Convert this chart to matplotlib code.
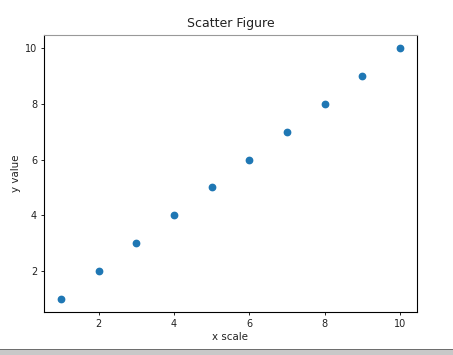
import matplotlib
matplotlib.use("Agg")
import matplotlib.pyplot as plt
from matplotlib.patches import Rectangle

x_values = [1, 2, 3, 4, 5, 6, 7, 8, 9, 10]
y_values = [1, 2, 3, 4, 5, 6, 7, 8, 9, 10]

fig = plt.figure(figsize=(4.53, 3.55), dpi=100)
ax = fig.add_axes([44/453, 1-312/355, (417-44)/453, (312-35)/355])
ax.scatter(x_values, y_values, s=21, color='#1f77b4')
ax.set_title("Scatter Figure", fontsize=9, pad=5.5, color='#222222')
ax.set_xlabel("x scale", fontsize=7.4, labelpad=2, color='#222222')
ax.set_ylabel("y value", fontsize=7.4, labelpad=3, color='#222222')
ax.tick_params(labelsize=7, length=2.5, width=0.6, pad=2.5, labelcolor='#222222')
for sp in ax.spines.values():
    sp.set_linewidth(0.8)
ax.spines['top'].set_color('#999999')

fig.patches.append(Rectangle((0, 0), 1, 6/355, transform=fig.transFigure, facecolor='#c8c8c8', edgecolor='none'))
fig.patches.append(Rectangle((0, 5/355), 1, 1.5/355, transform=fig.transFigure, facecolor='#6e6e6e', edgecolor='none'))

fig.savefig("out.png", dpi=100)
